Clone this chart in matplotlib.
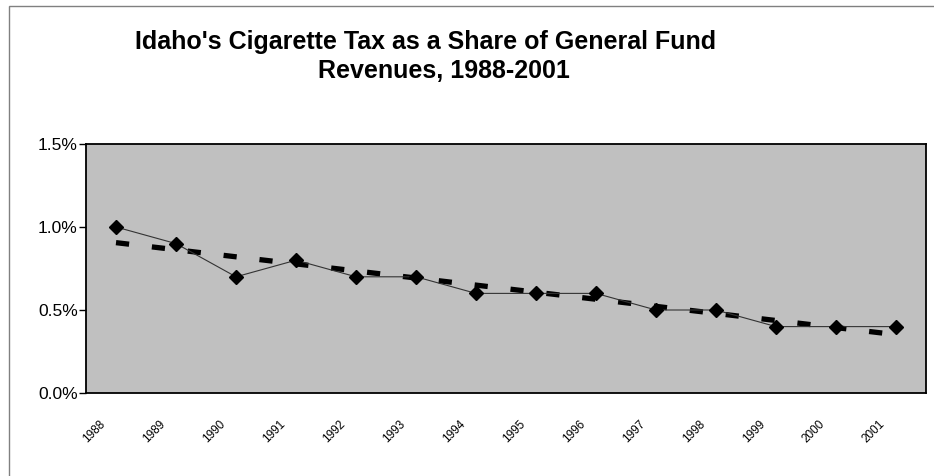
import matplotlib
matplotlib.use("Agg")
import matplotlib.pyplot as plt
import matplotlib.transforms as mtransforms
import numpy as np
from matplotlib.patches import Rectangle

years = ["1988", "1989", "1990", "1991", "1992", "1993", "1994",
         "1995", "1996", "1997", "1998", "1999", "2000", "2001"]
share = [1.0, 0.9, 0.7, 0.8, 0.7, 0.7, 0.6, 0.6, 0.6, 0.5, 0.5, 0.4, 0.4, 0.4]
yticks = [0.0, 0.5, 1.0, 1.5]
ytick_labels = ["0.0%", "0.5%", "1.0%", "1.5%"]
title_lines = ["Idaho's Cigarette Tax as a Share of General Fund",
               "Revenues, 1988-2001"]

plt.rcParams['font.family'] = ['Liberation Sans', 'DejaVu Sans']
plt.rcParams['lines.scale_dashes'] = False

W, H = 934, 476
fig = plt.figure(figsize=(W / 100, H / 100), dpi=100)
fig.patch.set_facecolor('white')

# outer chart border (left/top visible, right/bottom off the image)
fig.add_artist(Rectangle((9 / W, -0.05), 1.2, 1 - 6 / H + 0.05, transform=fig.transFigure,
                         fill=False, edgecolor='#808080', linewidth=1.0))

left, right, top, bottom = 86, 926, 144, 393
ax = fig.add_axes([left / W, 1 - bottom / H, (right - left) / W, (bottom - top) / H])
ax.set_facecolor('#C0C0C0')
for s in ax.spines.values():
    s.set_color('black')
    s.set_linewidth(1.3)

x = np.arange(len(years))
y = np.array(share)

# linear trendline (as in the original spreadsheet chart)
coef = np.polyfit(x, y, 1)
trend = np.polyval(coef, x)
ax.plot(x, trend, color='black', linewidth=3.8, dashes=(9.5, 16.5),
        dash_capstyle='butt', zorder=2)

ax.plot(x, y, color='#333333', linewidth=0.8, marker='D', markersize=7,
        markerfacecolor='black', markeredgecolor='black', zorder=3)

ax.set_xlim(-0.5, len(years) - 0.5)
ax.set_ylim(0, 1.5)
ax.set_yticks(yticks)
ax.set_yticklabels(ytick_labels, fontsize=12.5)
ax.tick_params(axis='y', direction='out', length=5, width=1, pad=1)
ax.set_xticks(x)
ax.set_xticklabels(years, rotation=45, fontsize=8.5, ha='right', rotation_mode='anchor')
ax.tick_params(axis='x', length=0, pad=18)
offset = mtransforms.ScaledTranslation(-0.17, 0, fig.dpi_scale_trans)
for lab in ax.get_xticklabels():
    lab.set_transform(lab.get_transform() + offset)

fig.text(426 / W, 1 - 49 / H, title_lines[0], ha='center', va='baseline',
         fontsize=18, fontweight='bold')
fig.text(444 / W, 1 - 78 / H, title_lines[1], ha='center', va='baseline',
         fontsize=18, fontweight='bold')

fig.savefig('out.png', dpi=100, facecolor='white')
